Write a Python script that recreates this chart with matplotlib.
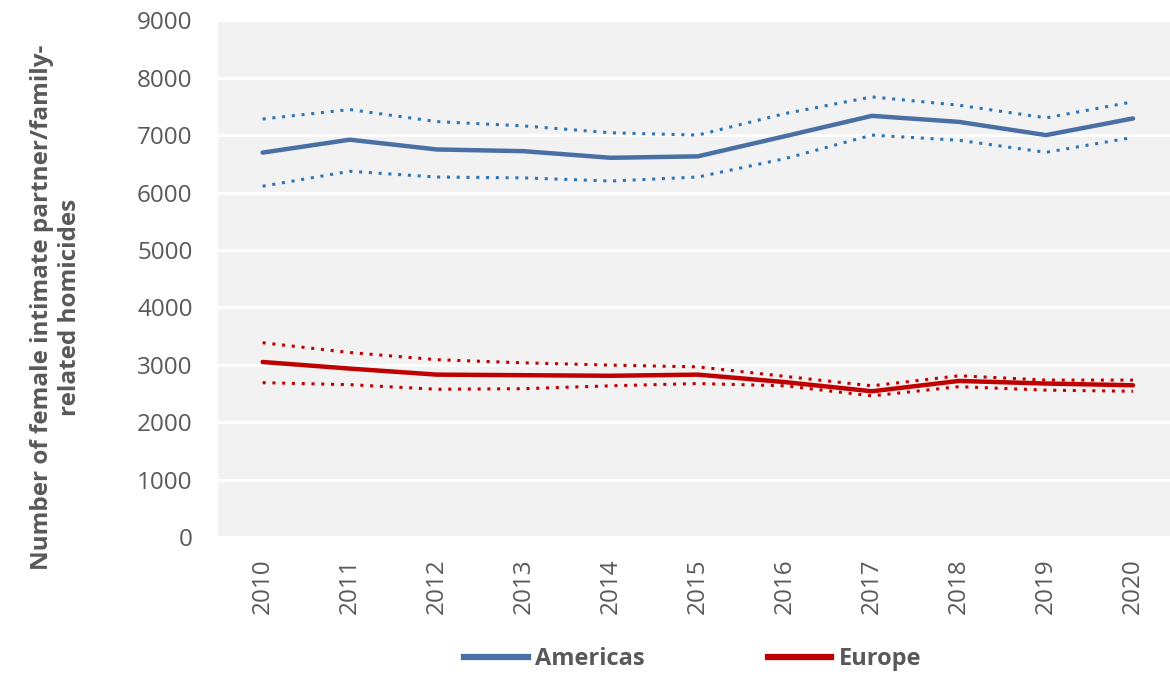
import numpy as np
import matplotlib
matplotlib.use('Agg')
import matplotlib.pyplot as plt
from matplotlib.lines import Line2D

years = ['2010', '2011', '2012', '2013', '2014', '2015', '2016', '2017', '2018', '2019', '2020']

americas = [6695, 6920, 6750, 6720, 6605, 6630, 6980, 7335, 7230, 7000, 7290]
americas_hi = [7280, 7445, 7235, 7160, 7040, 7000, 7375, 7665, 7520, 7300, 7580]
americas_lo = [6110, 6370, 6270, 6255, 6200, 6270, 6590, 7000, 6910, 6700, 6960]

europe = [3050, 2935, 2830, 2820, 2810, 2830, 2700, 2540, 2720, 2675, 2645]
europe_hi = [3385, 3215, 3090, 3035, 2995, 2965, 2800, 2635, 2810, 2735, 2735]
europe_lo = [2690, 2655, 2575, 2585, 2635, 2675, 2635, 2460, 2620, 2560, 2540]

blue = '#4A6FA5'
blue_dot = '#2E75B6'
red = '#C00000'
grey = '#595959'

plt.rcParams['font.family'] = ['Open Sans', 'DejaVu Sans']

fig = plt.figure(figsize=(11.7, 6.74), dpi=100)
ax = fig.add_axes([0.186, 0.203, 0.814, 0.767])
ax.set_facecolor('#F2F2F2')

x = np.arange(len(years))
dot = (0, (1, 2.2))

ax.plot(x, americas_hi, color=blue_dot, lw=2.2, linestyle=dot)
ax.plot(x, americas_lo, color=blue_dot, lw=2.2, linestyle=dot)
ax.plot(x, americas, color=blue, lw=3.2, solid_capstyle='round')

ax.plot(x, europe_hi, color=red, lw=2.2, linestyle=dot)
ax.plot(x, europe_lo, color=red, lw=2.2, linestyle=dot)
ax.plot(x, europe, color=red, lw=3.2, solid_capstyle='round')

ax.set_ylim(0, 9000)
ax.set_yticks(range(0, 9001, 1000))
ax.set_xlim(-0.517, 10.425)
ax.set_xticks(x)
ax.set_xticklabels(years, rotation=90)
ax.yaxis.grid(True, color='white', lw=2)
ax.set_axisbelow(True)
for s in ax.spines.values():
    s.set_visible(False)
ax.tick_params(length=0, labelsize=17.5, colors=grey)
ax.tick_params(axis='x', pad=15)
ax.tick_params(axis='y', pad=18)

ax.set_ylabel('Number of female intimate partner/family-\nrelated homicides',
              fontsize=17.5, fontweight='bold', color=grey, linespacing=1.25)
ax.yaxis.set_label_coords(-0.142, 0.445)

handles = [Line2D([], [], color=blue, lw=4.5),
           Line2D([], [], color=red, lw=4.5)]
fig.legend(handles, ['Americas', 'Europe'], loc='center', bbox_to_anchor=(0.592, 0.022),
           ncol=2, frameon=False, columnspacing=5.2,
           handlelength=2.7, handletextpad=0.3, prop={'weight': 'bold', 'size': 17},
           labelcolor=grey)

fig.savefig('out.png', dpi=100)
